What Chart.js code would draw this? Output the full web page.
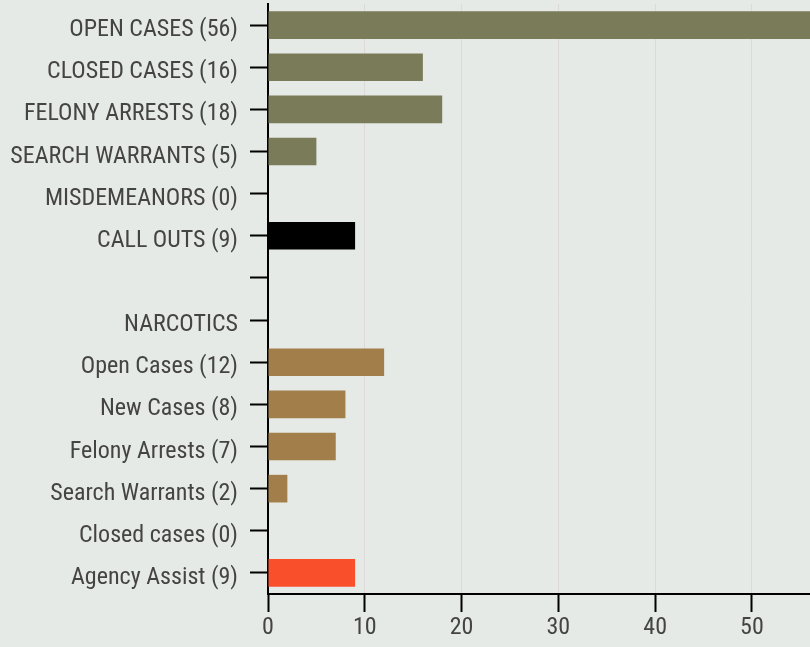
<!DOCTYPE html>
<html>
<head>
<meta charset="utf-8">
<script src="https://cdn.jsdelivr.net/npm/chart.js@4/dist/chart.umd.min.js"></script>
<style>
    html, body { margin: 0; padding: 0; background: #e6eae6; }
    #wrap { width: 810px; height: 647px; }
</style>
</head>
<body>
<div id="wrap"><canvas id="casesChart"></canvas></div>
<script>
// Chart data
const categories = [
    'OPEN CASES (56)', 'CLOSED CASES (16)', 'FELONY ARRESTS (18)', 'SEARCH WARRANTS (5)',
    'MISDEMEANORS (0)', 'CALL OUTS (9)', '', 'NARCOTICS',
    'Open Cases (12)', 'New Cases (8)', 'Felony Arrests (7)', 'Search Warrants (2)',
    'Closed cases (0)', 'Agency Assist (9)'
];
const counts = [56, 16, 18, 5, 0, 9, 0, 0, 12, 8, 7, 2, 0, 9];
const barColors = [
    '#7a7b58', '#7a7b58', '#7a7b58', '#7a7b58', '#7a7b58', '#000000', '#7a7b58', '#a27e4b',
    '#a27e4b', '#a27e4b', '#a27e4b', '#a27e4b', '#a27e4b', '#fa4f2b'
];
const xMax = 56;
const xTicks = [0, 10, 20, 30, 40, 50];

const fontFamily = "'Roboto Condensed', 'Liberation Sans Narrow', 'Arial Narrow', Roboto, sans-serif";

document.addEventListener('DOMContentLoaded', function() {
    const ctx = document.getElementById('casesChart');
    new Chart(ctx, {
        type: 'bar',
        data: {
            labels: categories,
            datasets: [{
                data: counts,
                backgroundColor: barColors,
                borderWidth: 0,
                categoryPercentage: 0.8,
                barPercentage: 0.82
            }]
        },
        options: {
            indexAxis: 'y',
            responsive: true,
            maintainAspectRatio: false,
            animation: false,
            layout: {
                padding: { top: 4, right: 0, bottom: 0, left: 0 }
            },
            plugins: {
                legend: { display: false },
                tooltip: { enabled: false }
            },
            scales: {
                x: {
                    min: 0,
                    max: xMax,
                    afterBuildTicks: function(scale) {
                        scale.ticks = xTicks.map(v => ({ value: v }));
                    },
                    afterFit: function(scale) {
                        scale.height = 53;
                        scale.paddingLeft = 0;
                        scale.paddingRight = 0;
                    },
                    border: { color: '#000', width: 2 },
                    grid: {
                        color: 'rgba(215, 210, 210, 0.7)',
                        lineWidth: 1,
                        tickColor: '#000',
                        tickWidth: 2,
                        tickLength: 18
                    },
                    ticks: {
                        color: '#444',
                        padding: 2,
                        font: { family: fontFamily, size: 24 }
                    }
                },
                y: {
                    afterFit: function(scale) {
                        scale.width = 268;
                        scale.paddingTop = 0;
                        scale.paddingBottom = 0;
                    },
                    border: { color: '#000', width: 2 },
                    grid: {
                        offset: false,
                        drawOnChartArea: false,
                        tickColor: '#000',
                        tickWidth: 2,
                        tickLength: 18
                    },
                    ticks: {
                        color: '#444',
                        padding: 12,
                        labelOffset: 5,
                        autoSkip: false,
                        font: { family: fontFamily, size: 24 }
                    }
                }
            }
        }
    });
});
</script>
</body>
</html>
